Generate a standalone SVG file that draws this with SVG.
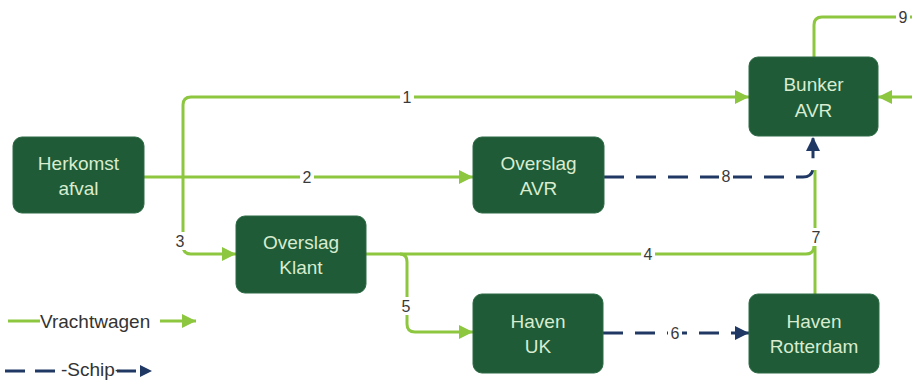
<svg xmlns="http://www.w3.org/2000/svg" width="912" height="381" viewBox="0 0 912 381">
<defs>
<marker id="ag" markerUnits="userSpaceOnUse" markerWidth="14" markerHeight="14" viewBox="0 0 12 12" refX="12" refY="6" orient="auto"><path d="M0,0 L12,6 L0,12 z" fill="#8dc63f"/></marker>
<marker id="an" markerUnits="userSpaceOnUse" markerWidth="14" markerHeight="14" viewBox="0 0 12 12" refX="12" refY="6" orient="auto"><path d="M0,0 L12,6 L0,12 z" fill="#1f3864"/></marker>
</defs>
<style>
.node rect{fill:#1e5b36;stroke:#2c6b44;stroke-width:1}
.node text{fill:#d8ecd0;font-family:"Liberation Sans",Arial,sans-serif;font-size:19px;text-anchor:middle}
.g{fill:none;stroke:#8dc63f;stroke-width:3}
.n{fill:none;stroke:#1f3864;stroke-width:3;stroke-dasharray:20 12}
.lbl{fill:#3a3a3a;font-family:"Liberation Sans",Arial,sans-serif;font-size:16px;text-anchor:middle}
.bg{fill:#ffffff}
.leg{fill:#333333;font-family:"Liberation Sans",Arial,sans-serif;font-size:19px}
</style>
<rect width="912" height="381" fill="#ffffff"/>
<g id="connectors">
<path class="g" d="M183,177 V105 Q183,97 191,97 H749" marker-end="url(#ag)"/>
<path class="g" d="M144,177 H473" marker-end="url(#ag)"/>
<path class="g" d="M183,177 V246 Q183,254 191,254 H236" marker-end="url(#ag)"/>
<path class="g" d="M366,254 H806 Q814,254 814,246"/>
<path class="g" d="M815,294 V170"/>
<path class="n" d="M604,177 H803 Q813,177 813,167 V137" marker-end="url(#an)"/>
<path class="g" d="M400,254 Q407,254 407,262 V324 Q407,332 415,332 H473" marker-end="url(#ag)"/>
<path class="n" d="M603,333 H749" marker-end="url(#an)"/>
<path class="g" d="M814,57 V25 Q814,17 822,17 H912"/>
<path class="g" d="M912,97 H878" marker-end="url(#ag)"/>
<rect class="bg" x="400" y="88" width="14" height="18"/><text class="lbl" x="407" y="103">1</text>
<rect class="bg" x="300" y="168" width="14" height="18"/><text class="lbl" x="307" y="183">2</text>
<rect class="bg" x="173" y="232" width="14" height="18"/><text class="lbl" x="180" y="247">3</text>
<rect class="bg" x="641" y="245" width="14" height="18"/><text class="lbl" x="648" y="260">4</text>
<rect class="bg" x="399" y="297" width="14" height="18"/><text class="lbl" x="406" y="312">5</text>
<rect class="bg" x="668" y="324" width="14" height="18"/><text class="lbl" x="675" y="339">6</text>
<rect class="bg" x="809" y="228" width="14" height="18"/><text class="lbl" x="816" y="243">7</text>
<rect class="bg" x="719" y="167" width="14" height="18"/><text class="lbl" x="726" y="182">8</text>
<rect class="bg" x="896" y="8" width="14" height="18"/><text class="lbl" x="903" y="23">9</text>
</g>
<g id="herkomst" class="node"><rect x="13" y="137" width="131" height="76" rx="9"/><text x="78.5" y="170">Herkomst</text><text x="78.5" y="195">afval</text></g>
<g id="overslag-avr" class="node"><rect x="473" y="137" width="131" height="76" rx="9"/><text x="538.5" y="170">Overslag</text><text x="538.5" y="195">AVR</text></g>
<g id="bunker-avr" class="node"><rect x="749" y="57" width="129" height="79" rx="9"/><text x="813.5" y="91">Bunker</text><text x="813.5" y="117">AVR</text></g>
<g id="overslag-klant" class="node"><rect x="236" y="216" width="130" height="77" rx="9"/><text x="301" y="249">Overslag</text><text x="301" y="274">Klant</text></g>
<g id="haven-uk" class="node"><rect x="473" y="294" width="130" height="79" rx="9"/><text x="538" y="328">Haven</text><text x="538" y="353">UK</text></g>
<g id="haven-rotterdam" class="node"><rect x="749" y="294" width="130" height="79" rx="9"/><text x="814" y="328">Haven</text><text x="814" y="353">Rotterdam</text></g>
<g id="legend">
<path class="g" d="M8,321 H40"/>
<text class="leg" x="40" y="328">Vrachtwagen</text>
<path class="g" d="M160,321 H196" marker-end="url(#ag)"/>
<path fill="none" stroke="#1f3864" stroke-width="3" d="M5,371 H25 M35,371 H55 M117,371 H136"/>
<text class="leg" x="61" y="376" font-size="14">-Schip-</text>
<path d="M140,365 L152,371 L140,377 z" fill="#1f3864"/>
</g>
</svg>
